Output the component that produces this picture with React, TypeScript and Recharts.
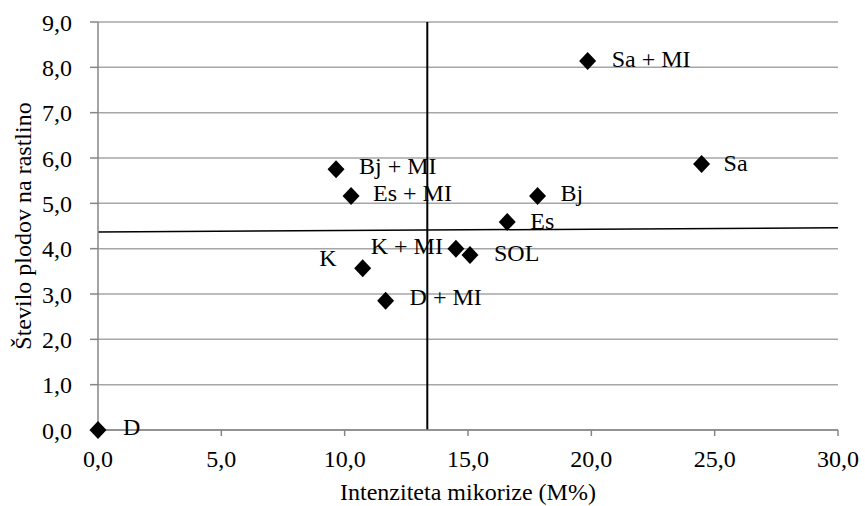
import React from 'react';
import {
  ScatterChart,
  Scatter,
  XAxis,
  YAxis,
  CartesianGrid,
  ReferenceLine,
} from 'recharts';

// Treatments, mycorrhizal intensity (M%) and fruits per plant
const treatments = ['D', 'D + MI', 'K', 'K + MI', 'SOL', 'Es', 'Es + MI', 'Bj', 'Bj + MI', 'Sa', 'Sa + MI'];
const mycorrhiza = [0, 11.66, 10.73, 14.51, 15.08, 16.59, 10.26, 17.82, 9.65, 24.47, 19.85];
const fruitsPerPlant = [0, 2.85, 3.57, 4.0, 3.86, 4.59, 5.16, 5.16, 5.75, 5.87, 8.14];

const xTicks = [0, 5, 10, 15, 20, 25, 30];
const yTicks = [0, 1, 2, 3, 4, 5, 6, 7, 8, 9];

// Dividing lines: mean mycorrhizal intensity and fruit-count line
const meanMycorrhiza = 13.35;
const fruitLineStart = 4.37;
const fruitLineEnd = 4.46;

const xTitle = 'Intenziteta mikorize (M%)';
const yTitle = 'Število plodov na rastlino';

const points = treatments.map((name, i) => ({
  name,
  x: mycorrhiza[i],
  y: fruitsPerPlant[i],
}));

const FONT = 'Liberation Serif';
const FONT_SIZE = 24;

// Label placement next to each marker: horizontal offset, anchor, vertical offset
const labelPlacement: Record<string, { dx: number; dy: number; anchor: 'start' | 'end' }> = {
  'D': { dx: 25, dy: -3, anchor: 'start' },
  'D + MI': { dx: 24, dy: -4, anchor: 'start' },
  'K': { dx: -26, dy: -10, anchor: 'end' },
  'K + MI': { dx: -13, dy: -3, anchor: 'end' },
  'SOL': { dx: 24, dy: -2, anchor: 'start' },
  'Es': { dx: 23, dy: -1, anchor: 'start' },
  'Es + MI': { dx: 22, dy: -3, anchor: 'start' },
  'Bj': { dx: 23, dy: -3, anchor: 'start' },
  'Bj + MI': { dx: 23, dy: -3, anchor: 'start' },
  'Sa': { dx: 22, dy: -1, anchor: 'start' },
  'Sa + MI': { dx: 24, dy: -2, anchor: 'start' },
};

const fmt = (v: number) => v.toFixed(1).replace('.', ',');

const DiamondWithLabel = (props: any) => {
  const { cx, cy, payload } = props;
  if (cx == null || cy == null) return null;
  const p = labelPlacement[payload?.name] ?? { dx: 22, dy: 0, anchor: 'start' };
  return (
    <g>
      <path
        d={`M${cx},${cy - 9} L${cx + 8.5},${cy} L${cx},${cy + 9} L${cx - 8.5},${cy} Z`}
        fill="#000"
      />
      <text
        x={cx + p.dx}
        y={cy + p.dy}
        textAnchor={p.anchor}
        dominantBaseline="central"
        fontFamily={FONT}
        fontSize={FONT_SIZE}
        fill="#000"
      >
        {payload?.name}
      </text>
    </g>
  );
};

const XTitle = (props: any) => {
  const vb = props.viewBox || {};
  const cx = vb.x + vb.width / 2;
  return (
    <text x={cx} y={vb.y + 70} textAnchor="middle" fontFamily={FONT} fontSize={FONT_SIZE} fill="#000">
      {xTitle}
    </text>
  );
};

const YTitle = (props: any) => {
  const vb = props.viewBox || {};
  const cy = vb.y + vb.height / 2;
  const x = 31;
  return (
    <text
      x={x}
      y={cy}
      transform={`rotate(-90 ${x} ${cy})`}
      textAnchor="middle"
      fontFamily={FONT}
      fontSize={FONT_SIZE}
      fill="#000"
    >
      {yTitle}
    </text>
  );
};

const tickStyle = { fontFamily: FONT, fontSize: FONT_SIZE, fill: '#000' };

export default function App() {
  return (
    <div style={{ position: 'absolute', left: 0, top: 0, background: '#fff' }}>
      <ScatterChart
        width={865}
        height={506}
        margin={{ top: 22, right: 27, bottom: 0, left: 0 }}
      >
        <CartesianGrid vertical={false} stroke="#a6a6a6" strokeWidth={1.5} />
        <XAxis
          type="number"
          dataKey="x"
          domain={[0, 30]}
          ticks={xTicks}
          tickFormatter={fmt}
          height={76}
          tickSize={6}
          tickMargin={14}
          stroke="#868686"
          strokeWidth={1.5}
          tick={tickStyle}
          label={<XTitle />}
        />
        <YAxis
          type="number"
          dataKey="y"
          domain={[0, 9]}
          ticks={yTicks}
          tickFormatter={fmt}
          width={98}
          tickSize={8}
          tickMargin={18}
          stroke="#868686"
          strokeWidth={1.5}
          tick={tickStyle}
          label={<YTitle />}
        />
        <ReferenceLine x={meanMycorrhiza} stroke="#000" strokeWidth={2} />
        <ReferenceLine
          segment={[
            { x: 0, y: fruitLineStart },
            { x: 30, y: fruitLineEnd },
          ]}
          stroke="#000"
          strokeWidth={1.5}
        />
        <Scatter
          data={points}
          shape={<DiamondWithLabel />}
          isAnimationActive={false}
        />
      </ScatterChart>
    </div>
  );
}
